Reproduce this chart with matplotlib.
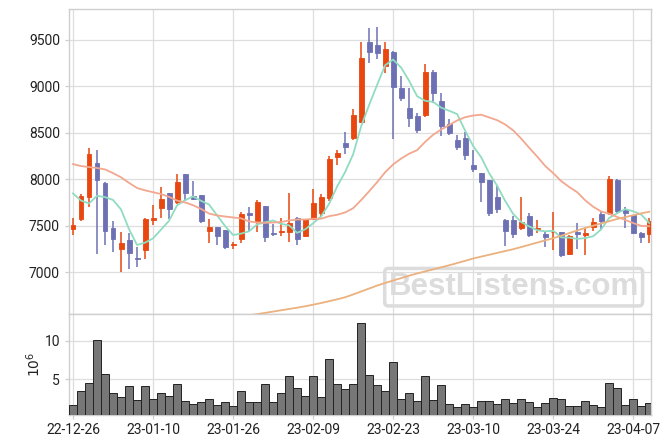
import matplotlib
matplotlib.use("Agg")
import matplotlib.pyplot as plt
import numpy as np
import pandas as pd

plt.rcParams['font.family'] = ['Roboto', 'DejaVu Sans']

dates = ["22-12-26", "22-12-27", "22-12-28", "22-12-29", "23-01-02", "23-01-03", "23-01-04", "23-01-05",
         "23-01-06", "23-01-09", "23-01-10", "23-01-11", "23-01-12", "23-01-13", "23-01-16", "23-01-17",
         "23-01-18", "23-01-19", "23-01-20", "23-01-25", "23-01-26", "23-01-27", "23-01-30", "23-01-31",
         "23-02-01", "23-02-02", "23-02-03", "23-02-06", "23-02-07", "23-02-08", "23-02-09", "23-02-10",
         "23-02-13", "23-02-14", "23-02-15", "23-02-16", "23-02-17", "23-02-20", "23-02-21", "23-02-22",
         "23-02-23", "23-02-24", "23-02-27", "23-02-28", "23-03-02", "23-03-03", "23-03-06", "23-03-07",
         "23-03-08", "23-03-09", "23-03-10", "23-03-13", "23-03-14", "23-03-15", "23-03-16", "23-03-17",
         "23-03-20", "23-03-21", "23-03-22", "23-03-23", "23-03-24", "23-03-27", "23-03-28", "23-03-29",
         "23-03-30", "23-03-31", "23-04-03", "23-04-04", "23-04-05", "23-04-06", "23-04-07", "23-04-10",
         "23-04-11"]

opens = [7460, 7570, 7810, 8170, 7955, 7470, 7248, 7344, 7155, 7237, 7565, 7692, 7847, 7757, 8055, 7821,
         7828, 7444, 7484, 7452, 7294, 7355, 7638, 7552, 7710, 7420, 7427, 7434, 7578, 7391, 7567, 7638,
         7800, 8241, 8385, 8439, 8617, 9475, 9443, 9220, 9371, 8980, 8768, 8682, 8690, 9157, 8840, 8593,
         8421, 8446, 8152, 8062, 7990, 7804, 7560, 7560, 7477, 7603, 7459, 7409, 7427, 7427, 7197, 7430,
         7401, 7481, 7624, 7631, 7990, 7664, 7613, 7423, 7406]
highs = [7580, 7840, 8330, 8310, 7965, 7550, 7427, 7416, 7266, 7578, 7721, 7918, 7854, 8055, 8060, 7983,
         7830, 7567, 7490, 7455, 7320, 7649, 7703, 7775, 7715, 7516, 7584, 7847, 7589, 7570, 7890, 7839,
         8248, 8310, 8503, 8754, 9472, 9622, 9633, 9472, 9382, 9112, 8977, 8708, 9238, 9174, 8923, 8647,
         8474, 8510, 8313, 8065, 7995, 7925, 7567, 7606, 7804, 7632, 7560, 7434, 7649, 7434, 7398, 7524,
         7470, 7578, 7649, 8033, 8001, 7703, 7620, 7430, 7584]
lows = [7400, 7555, 7700, 7200, 7290, 7212, 7003, 7030, 7057, 7143, 7506, 7584, 7570, 7732, 7775, 7775,
        7531, 7315, 7290, 7244, 7244, 7309, 7427, 7434, 7320, 7387, 7390, 7326, 7290, 7380, 7560, 7595,
        7767, 8151, 8270, 8420, 8600, 9246, 9289, 9138, 8428, 8843, 8557, 8499, 8665, 8815, 8464, 8471,
        8313, 8205, 8080, 7757, 7603, 7631, 7280, 7363, 7452, 7380, 7416, 7266, 7237, 7158, 7183, 7244,
        7180, 7444, 7459, 7613, 7638, 7470, 7409, 7309, 7309]
closes = [7510, 7820, 8270, 7990, 7445, 7358, 7312, 7208, 7140, 7570, 7585, 7786, 7681, 7969, 7847, 7790,
          7549, 7484, 7387, 7272, 7305, 7624, 7610, 7757, 7380, 7410, 7441, 7531, 7352, 7567, 7739, 7804,
          8216, 8280, 8345, 8690, 9306, 9371, 9360, 9400, 8994, 8876, 8661, 8528, 9157, 8931, 8571, 8493,
          8349, 8259, 8108, 7972, 7631, 7678, 7441, 7406, 7538, 7398, 7473, 7380, 7437, 7180, 7387, 7406,
          7420, 7538, 7552, 8001, 7660, 7638, 7423, 7373, 7549]
volumes = [1.63, 3.48, 4.48, 10.05, 5.65, 3.19, 2.67, 4.09, 2.32, 4.09, 2.41, 3.19, 2.80, 4.35, 2.15, 1.76,
           2.02, 2.41, 1.63, 2.02, 1.50, 3.48, 2.02, 2.02, 4.35, 2.02, 3.19, 5.39, 3.83, 2.80, 5.39, 2.67,
           7.59, 4.35, 3.70, 4.35, 12.25, 5.52, 4.22, 3.48, 7.20, 2.41, 3.19, 2.15, 5.39, 2.37, 4.22, 1.76,
           1.37, 1.76, 1.37, 2.15, 2.15, 1.76, 2.41, 1.89, 2.41, 2.02, 1.37, 1.89, 2.54, 2.41, 1.50, 1.50,
           2.15, 1.63, 1.37, 4.48, 3.83, 1.63, 2.41, 1.50, 1.89]

# moving-average values at the start of the window (need earlier history)
ma5_head = [7847, 7770, 7739, 7821]
ma20_head = [8162, 8141, 8130, 8120, 8105, 8065, 8020, 7960, 7905, 7880, 7860, 7840, 7810, 7770, 7750,
             7720, 7680, 7630, 7610]
# long moving average (visible part only), starting at index 22
ma_long_visible = [6535, 6549, 6562, 6576, 6590, 6604, 6618, 6633, 6650, 6668, 6688, 6708, 6730, 6760,
                   6792, 6824, 6856, 6884, 6910, 6936, 6962, 6986, 7008, 7030, 7052, 7074, 7098, 7122,
                   7147, 7167, 7187, 7207, 7227, 7247, 7270, 7294, 7318, 7342, 7365, 7392, 7420, 7448,
                   7476, 7500, 7524, 7548, 7572, 7592, 7612, 7632, 7650]
ma_long_start = 22

n = len(closes)
x = np.arange(n)
c = pd.Series(closes, dtype=float)
ma5 = c.rolling(5).mean().to_numpy()
ma5[:len(ma5_head)] = ma5_head
ma20 = c.rolling(20).mean().to_numpy()
ma20[:len(ma20_head)] = ma20_head
ma_long = np.full(n, np.nan)
ma_long[ma_long_start:ma_long_start + len(ma_long_visible)] = ma_long_visible

UP = '#E8470F'
DOWN = '#6D71B4'
GRID = '#DEDEDE'
SPINE = '#CFCFCF'

fig = plt.figure(figsize=(6.7, 4.44), dpi=100)
ax = fig.add_axes([69/670, 1-314/444, (651-69)/670, (314-9.3)/444])
axv = fig.add_axes([69/670, 1-415/444, (651-69)/670, (415-314)/444], sharex=ax)

o = np.array(opens, float); cl = np.array(closes, float)
hi = np.array(highs, float); lo = np.array(lows, float)
colors = [UP if cc >= oo else DOWN for oo, cc in zip(o, cl)]
ax.vlines(x, lo, hi, colors=colors, linewidth=1.1, zorder=3)
ax.bar(x, np.abs(cl - o), bottom=np.minimum(o, cl), width=0.62, color=colors,
       edgecolor=colors, linewidth=0.6, zorder=4)

ax.plot(x, ma5, color='#8FDCC1', linewidth=1.3, zorder=5)
ax.plot(x, ma20, color='#F2A78E', linewidth=1.3, zorder=5)
ax.plot(x, ma_long, color='#EBB17E', linewidth=1.3, zorder=5)

ax.text(0.764, 0.088, "BestListens.com", transform=ax.transAxes, ha='center', va='center',
        fontsize=22.5, fontweight='bold', family='Liberation Sans', color='#DCDCDC', zorder=1,
        bbox=dict(boxstyle='round,pad=0.12', facecolor='none', edgecolor='#DCDCDC', linewidth=2.5))

ax.set_ylim(6550, 9827)
ax.set_yticks([7000, 7500, 8000, 8500, 9000, 9500])
ax.set_xlim(-0.5, 72.22)

axv.bar(x, volumes, width=1.0, color='#777777', edgecolor='#222222', linewidth=0.7, zorder=3)
axv.set_ylim(0.38, 13.46)
axv.set_yticks([5, 10])
axv.set_ylabel('$10^6$', fontsize=10, color='#222222', labelpad=1)

tick_idx = list(range(0, n, 10))
axv.set_xticks(tick_idx)
axv.set_xticklabels([dates[i] for i in tick_idx])
ax.tick_params(axis='x', labelbottom=False)

for a in (ax, axv):
    a.grid(True, color=GRID, linewidth=0.9, zorder=0)
    a.set_axisbelow(True)
    for s in a.spines.values():
        s.set_color(SPINE)
        s.set_linewidth(1.0)
    a.tick_params(axis='both', colors=SPINE, labelcolor='#222222', labelsize=10, length=3, width=0.9)
axv.tick_params(axis='x', pad=3)

fig.savefig('out.png', dpi=100)
